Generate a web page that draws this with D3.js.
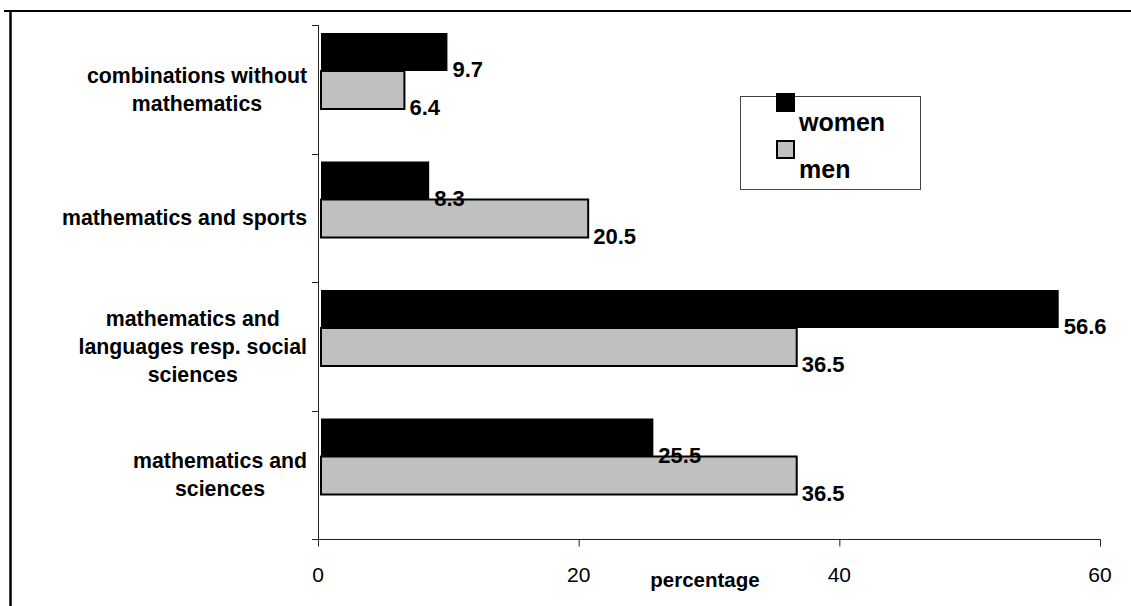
<!DOCTYPE html>
<html>
<head>
<meta charset="utf-8">
<script src="https://cdn.jsdelivr.net/npm/d3@7"></script>
<style>
  html, body { margin: 0; padding: 0; background: #fff; }
  svg { display: block; }
  text { font-family: Arial, "Liberation Sans", sans-serif; fill: #000; }
</style>
</head>
<body>
<svg id="chart" width="1131" height="606"></svg>
<script>
// ---- data ----
const categories = [
  "combinations without mathematics",
  "mathematics and sports",
  "mathematics and languages resp. social sciences",
  "mathematics and sciences"
];
const categoryLines = [
  ["combinations without", "mathematics"],
  ["mathematics and sports"],
  ["mathematics and", "languages resp. social", "sciences"],
  ["mathematics and", "sciences"]
];
const seriesNames = ["women", "men"];
const women = [9.7, 8.3, 56.6, 25.5];
const men = [6.4, 20.5, 36.5, 36.5];
const xTicks = [0, 20, 40, 60];
const xTitle = "percentage";

// ---- layout ----
const svg = d3.select("#chart");
const colors = { women: "#000000", men: "#c0c0c0" };

const x = d3.scaleLinear().domain([0, 60]).range([318, 1100]);
const y = d3.scaleBand().domain(categories).range([25, 539]).padding(0);
const inner = d3.scaleBand().domain(seriesNames).range([8, 84]).padding(0);

// frame lines
svg.append("line").attr("x1", 4).attr("x2", 1131).attr("y1", 11).attr("y2", 11)
  .attr("stroke", "#000").attr("stroke-width", 2);
svg.append("line").attr("x1", 10.5).attr("x2", 10.5).attr("y1", 12).attr("y2", 606)
  .attr("stroke", "#000").attr("stroke-width", 2.5);

// bars
const rows = categories.map((c, i) => ({ cat: c, women: women[i], men: men[i] }));
const gap = 3;
rows.forEach(r => {
  seriesNames.forEach(s => {
    const y0 = y(r.cat) + inner(s);
    svg.append("rect")
      .attr("x", x(0) + gap)
      .attr("y", y0)
      .attr("width", x(r[s]) - x(0))
      .attr("height", inner.bandwidth())
      .attr("fill", colors[s])
      .attr("stroke", "#000")
      .attr("stroke-width", s === "men" ? 2 : 0);
  });
});

// value labels
rows.forEach(r => {
  seriesNames.forEach(s => {
    const y0 = y(r.cat) + inner(s);
    svg.append("text")
      .attr("x", x(0) + gap + x(r[s]) - x(0) + 5)
      .attr("y", y0 + inner.bandwidth() + 6)
      .attr("font-size", 22)
      .attr("font-weight", "bold")
      .text(r[s].toFixed(1));
  });
});

// y axis
const yAxisG = svg.append("g");
yAxisG.append("line").attr("x1", x(0) + 0.5).attr("x2", x(0) + 0.5)
  .attr("y1", y.range()[0]).attr("y2", y.range()[1] + 7)
  .attr("stroke", "#222").attr("stroke-width", 1);
const bounds = categories.map(c => y(c)).concat([y.range()[1]]);
bounds.forEach(b => {
  yAxisG.append("line").attr("x1", x(0) - 6).attr("x2", x(0) + 0.5)
    .attr("y1", Math.round(b) + 0.5).attr("y2", Math.round(b) + 0.5)
    .attr("stroke", "#222").attr("stroke-width", 1);
});

// x axis
const xAxisG = svg.append("g").attr("transform", `translate(0,${y.range()[1] + 0.5})`);
xAxisG.append("line").attr("x1", x(0)).attr("x2", x(60) + 0.5).attr("y1", 0).attr("y2", 0)
  .attr("stroke", "#222").attr("stroke-width", 1);
xTicks.forEach(t => {
  xAxisG.append("line").attr("x1", x(t) + 0.5).attr("x2", x(t) + 0.5).attr("y1", 0).attr("y2", 7)
    .attr("stroke", "#222").attr("stroke-width", 1);
  xAxisG.append("text").attr("x", x(t)).attr("y", 42.5)
    .attr("text-anchor", "middle").attr("font-size", 21).text(t);
});
svg.append("text").attr("x", 705).attr("y", 587).attr("text-anchor", "middle")
  .attr("font-size", 20.5).attr("font-weight", "bold").text(xTitle);

// category labels: block right-aligned, lines centered within block
const lineH = 28;
categories.forEach((c, i) => {
  const lines = categoryLines[i];
  const g = svg.append("g");
  const texts = lines.map((ln, k) => g.append("text")
    .attr("font-size", 21.3).attr("font-weight", "bold")
    .attr("text-anchor", "middle").text(ln));
  const maxW = d3.max(texts, t => t.node().getComputedTextLength());
  const cx = 307 - maxW / 2;
  const cy = y(c) + y.bandwidth() / 2;
  const firstBase = cy + 7.5 - (lines.length - 1) * lineH / 2;
  texts.forEach((t, k) => t.attr("x", cx).attr("y", firstBase + k * lineH));
});

// legend
const lg = svg.append("g");
lg.append("rect").attr("x", 740.5).attr("y", 96.5).attr("width", 180).attr("height", 93)
  .attr("fill", "#fff").attr("stroke", "#444").attr("stroke-width", 1);
seriesNames.forEach((s, i) => {
  lg.append("rect").attr("x", 777).attr("y", 94 + i * 47).attr("width", 17).attr("height", 17)
    .attr("fill", colors[s]).attr("stroke", "#000").attr("stroke-width", 2);
  lg.append("text").attr("x", 799).attr("y", 131 + i * 47)
    .attr("font-size", 25).attr("font-weight", "bold").text(s);
});
</script>
</body>
</html>
